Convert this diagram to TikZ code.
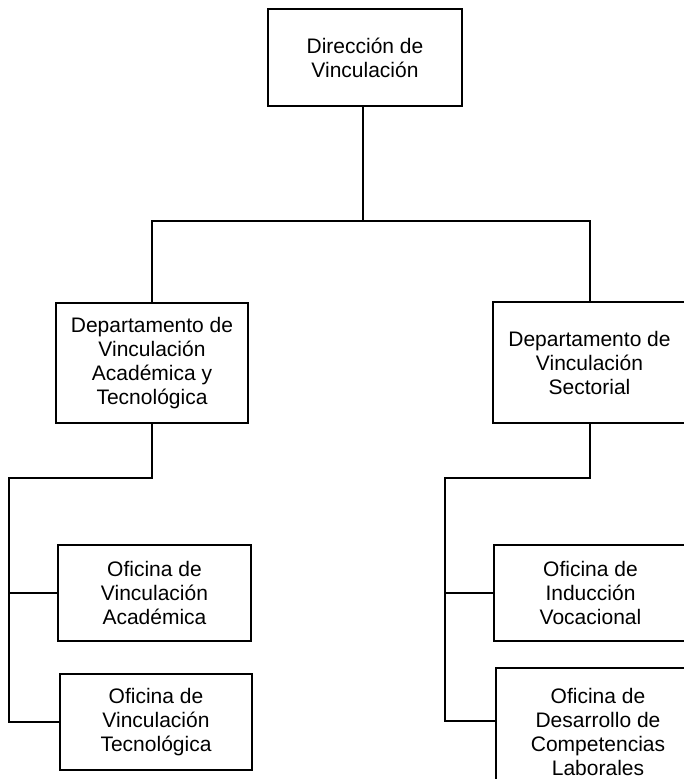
\documentclass[tikz,border=0pt]{standalone}
\usepackage{fontspec}
\setmainfont{Liberation Sans}
\begin{document}
\begin{tikzpicture}[x=1pt,y=-1pt,
  box/.style={draw, line width=2pt, align=center, inner sep=0pt, fill=white,
    font=\fontsize{21}{24}\selectfont},
  conn/.style={line width=2pt, line join=miter}]
\useasboundingbox (0,0) rectangle (684,779);
\clip (0,0) rectangle (684,779);
\fill[white] (0,0) rectangle (684,779);
% nodes
\node[box, minimum width=194pt, minimum height=97pt] (dir) at (365,57.5) {Dirección de\\Vinculación};
\node[box, minimum width=192pt, minimum height=120pt] (ld) at (152,363) {Departamento de\\Vinculación\\Académica y\\Tecnológica};
\node[box, minimum width=193pt, minimum height=121pt] (rd) at (589.5,362.5) {Departamento de\\Vinculación\\Sectorial};
\node[box, minimum width=193pt, minimum height=96pt] (aca) at (154.5,592.5) {Oficina de\\Vinculación\\Académica};
\node[box, minimum width=192pt, minimum height=96pt] (tec) at (156,722) {Oficina de\\Vinculación\\Tecnológica};
\node[box, minimum width=193pt, minimum height=96pt] (ind) at (590.5,593) {Oficina de\\Inducción\\Vocacional};
\node[box, minimum width=204pt, minimum height=128pt] (des) at (598,732) {Oficina de\\Desarrollo de\\Competencias\\Laborales};
% helper coordinates
\coordinate (bus) at (363,221);
\coordinate (lv) at (8.5,722);
\coordinate (rv) at (445,721);
% connectors
\draw[conn] (dir.south -| bus) -- (bus);
\draw[conn] (ld.north) |- (bus) -| (rd.north);
\draw[conn] (ld.south) -- ++(0,54) -| (lv) -- (tec.west);
\draw[conn] (aca.west) -- (aca.west -| lv);
\draw[conn] (rd.south) -- ++(0,54) -| (rv) -- (rv -| des.west);
\draw[conn] (ind.west) -- (ind.west -| rv);
\end{tikzpicture}
\end{document}
